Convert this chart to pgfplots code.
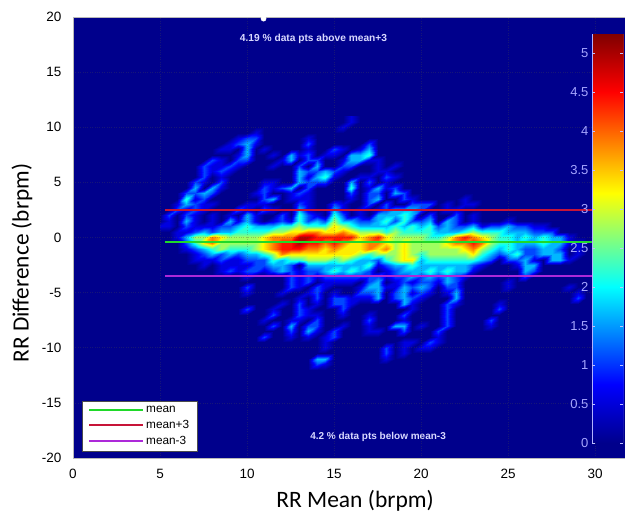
\documentclass[border=0pt]{standalone}
\usepackage{fontspec}
\setmainfont{Liberation Sans}
\newfontfamily\calibri{Carlito}
\usepackage{pgfplots}
\pgfplotsset{compat=1.18}
\makeatletter
\def\heatdata{}
\newcount\hc
% one row of the density grid: row number, then column/level pairs (all others are 0)
\newcommand\R[2]{%
  \pgfmathsetmacro\hy{11-0.5*#1}%
  \global\hc=0
  \loop\ifnum\hc<51 \expandafter\gdef\csname hv\the\hc\endcsname{0}\global\advance\hc 1 \repeat
  \foreach\i/\v in {#2}{\expandafter\xdef\csname hv\i\endcsname{\v}}%
  \global\hc=0
  \loop\ifnum\hc<51
    \pgfmathsetmacro\hx{5+0.5*\the\hc}%
    \xdef\heatdata{\heatdata(\hx,\hy) [\csname hv\the\hc\endcsname] }%
    \global\advance\hc 1
  \repeat}
\makeatother
\R{0}{22/1}
\R{1}{22/1}
\R{2}{21/1}
\R{3}{11/1}
\R{4}{9/1,10/2,11/2,17/1}
\R{5}{8/1,9/2,10/3,11/1,17/2,24/2}
\R{6}{7/1,8/1,10/3,12/1,17/1,20/2,21/1,23/1,24/3}
\R{7}{9/1,10/3,13/1,15/3,16/1,17/2,19/1,20/1,22/3,23/3,24/4}
\R{8}{6/2,7/1,9/2,10/2,14/1,15/3,17/2,18/2,21/1,22/3,23/3,24/1,25/1}
\R{9}{5/2,6/1,7/1,8/2,9/1,13/1,16/2,18/3,21/2,22/2,25/1,27/1}
\R{10}{5/2,6/1,7/2,8/1,16/3,17/2,18/2,19/3,20/2,21/1,25/1,26/1}
\R{11}{5/2,7/1,16/3,17/1,18/3,19/4,20/1,23/1,24/1,26/2,27/1}
\R{12}{4/2,5/1,7/2,12/1,13/1,16/3,17/2,18/2,19/2,22/3,24/2,26/1}
\R{13}{4/3,6/3,7/1,12/2,13/1,14/2,15/3,17/2,22/4,24/1,25/3,26/1,27/2}
\R{14}{3/2,4/2,5/3,6/2,11/1,12/2,15/1,16/2,17/1,22/2,24/2,25/2,27/3,28/2}
\R{15}{3/4,4/1,5/2,12/2,13/3,15/1,16/1,17/1,22/1,24/2,25/3,28/2,29/1,35/1}
\R{16}{2/1,3/3,4/2,5/1,6/1,10/1,11/1,12/1,16/2,17/1,20/2,21/1,24/2,26/2,29/2,30/2,31/2,33/1,35/1,36/1}
\R{17}{2/2,3/1,4/2,5/1,9/2,10/1,12/2,13/1,16/3,17/1,20/3,21/1,23/1,25/1,26/2,27/3,28/3,29/3,30/2,33/1,34/1}
\R{18}{1/2,3/2,4/1,6/1,8/1,10/3,11/1,14/2,16/4,17/2,18/1,20/4,21/2,23/1,25/3,26/3,27/3,28/4,29/3,31/2,34/2,36/1}
\R{19}{1/1,3/3,4/1,6/1,8/3,9/1,10/3,11/1,13/1,14/2,15/1,16/4,17/2,18/3,19/2,20/5,21/3,22/3,23/2,24/2,25/3,26/4,27/2,28/4,29/2,30/2,31/3,33/3,34/2,36/1,40/1}
\R{20}{0/1,1/1,3/2,4/1,5/1,6/1,7/2,8/2,9/3,10/4,11/3,12/3,13/3,14/4,15/4,16/5,17/4,18/4,19/4,20/6,21/5,22/4,23/3,24/3,25/3,26/3,27/4,28/3,29/4,30/3,31/4,32/2,33/3,34/2,35/2,36/3,37/1,38/2,39/2,40/3,41/2,42/2,43/1,44/1}
\R{21}{2/1,3/1,4/2,5/3,6/2,7/3,8/3,9/4,10/4,11/4,12/4,13/5,14/5,15/6,16/6,17/7,18/7,19/6,20/6,21/7,22/6,23/5,24/5,25/5,26/4,27/5,28/4,29/4,30/4,31/4,32/3,33/3,34/3,35/4,36/5,37/4,38/4,39/4,40/3,41/3,42/3,43/2,44/2,45/2}
\R{22}{2/1,3/3,4/5,5/5,6/7,7/6,8/5,9/5,10/5,11/5,12/6,13/7,14/7,15/7,16/9,17/9,18/8,19/8,20/8,21/8,22/8,23/6,24/7,25/8,26/6,27/5,28/5,29/5,30/5,31/4,32/4,33/5,34/7,35/8,36/7,37/6,38/5,39/4,40/4,41/3,42/4,43/3,44/4,45/3,46/3,47/1}
\R{23}{3/2,4/4,5/6,6/7,7/5,8/5,9/5,10/5,11/5,12/6,13/7,14/8,15/8,16/9,17/8,18/8,19/7,20/8,21/7,22/6,23/6,24/7,25/7,26/6,27/5,28/6,29/5,30/5,31/5,32/5,33/6,34/7,35/7,36/8,37/7,38/5,39/4,40/4,41/3,42/3,43/3,44/4,45/3,46/3,47/1,48/1}
\R{24}{3/1,4/2,5/3,6/4,7/5,8/4,9/4,10/4,11/5,12/6,13/7,14/8,15/8,16/8,17/7,18/7,19/6,20/7,21/6,22/6,23/6,24/7,25/6,26/7,27/5,28/6,29/5,30/5,31/5,32/5,33/5,34/5,35/6,36/7,37/5,38/4,39/3,40/4,41/3,42/2,43/2,44/3,45/3,46/2,48/1}
\R{25}{4/1,5/2,6/3,7/2,8/3,9/2,10/3,11/3,12/4,13/5,14/7,15/6,16/6,17/6,18/6,19/6,20/6,21/6,22/6,23/5,24/4,25/5,26/5,27/5,28/6,29/5,30/4,31/5,32/5,33/5,34/5,35/5,36/6,37/4,38/3,39/2,40/3,41/4,42/2,43/2,44/3,45/3,46/3,48/1}
\R{26}{4/1,5/1,6/1,7/2,8/1,9/1,10/2,11/2,12/2,13/4,14/3,15/4,16/4,17/5,18/5,19/5,20/4,21/5,22/4,23/3,24/3,25/2,26/4,27/5,28/6,29/6,30/3,31/4,32/4,33/4,34/4,35/4,36/4,37/3,38/2,40/2,41/2,42/3,43/1,45/3,46/3,47/1}
\R{27}{5/1,7/1,8/1,9/1,10/1,11/2,12/2,13/3,14/3,15/2,17/3,18/3,19/3,20/3,21/3,22/3,23/3,24/4,25/1,26/2,27/3,28/3,29/4,30/3,31/3,32/3,33/3,34/3,35/3,36/2,37/1,41/1,42/3,43/3}
\R{28}{7/1,8/2,9/1,10/2,11/2,12/1,13/2,14/3,15/2,16/1,17/2,18/2,19/3,20/4,21/3,22/4,23/3,24/2,26/1,27/2,28/3,29/3,30/3,31/4,32/3,33/4,34/3,35/3,36/1,42/3,43/2}
\R{29}{10/1,15/2,16/1,17/2,18/1,19/2,20/2,21/2,22/2,23/2,24/2,25/2,26/1,27/2,28/2,29/3,30/2,31/3,32/2,33/3,34/2,35/1,42/2}
\R{30}{15/2,16/1,17/2,19/1,20/1,21/1,22/1,24/2,25/3,27/1,28/2,29/1,30/2,31/2,32/1,33/3,34/2,40/1}
\R{31}{10/2,15/2,16/1,18/2,19/1,23/1,24/3,25/3,26/1,27/1,28/3,29/2,30/3,31/2,33/2,34/2,40/1,47/1}
\R{32}{10/1,14/1,17/1,18/2,20/1,23/2,24/2,25/3,27/2,28/3,29/1,30/2,31/1,33/1,34/3,48/1}
\R{33}{16/1,18/2,20/2,21/2,22/1,23/1,24/1,25/3,27/2,28/3,29/2,30/1,34/3,48/2}
\R{34}{14/1,16/2,18/1,20/2,21/2,22/1,28/3,29/1,33/2,34/1,39/1}
\R{35}{10/2,13/1,16/2,17/1,21/2,29/1,33/2,39/2}
\R{36}{13/2,16/2,17/1,18/1,21/1,24/1,28/2,33/2}
\R{37}{12/1,15/1,16/1,18/2,24/2,28/1,33/2,38/2}
\R{38}{13/2,15/3,17/2,18/2,21/1,24/1,27/3,28/3,30/1,33/2,38/1}
\R{39}{15/2,17/3,18/1,20/2,24/1,25/1,28/2,32/2}
\R{40}{12/2,15/1,17/1,19/1,20/2,32/1}
\R{41}{19/1,28/1,29/1,31/2,32/1}
\R{42}{19/1,26/2,28/1,30/1,31/1}
\R{43}{26/2,28/1}
\R{44}{18/3,19/3,26/1}
\R{45}{18/2,19/1}
\R{46}{0/0}
\definecolor{bgblue}{rgb}{0,0,0.55}
\definecolor{mred}{rgb}{0.78,0.08,0.22}
\definecolor{mgreen}{rgb}{0.12,0.85,0.16}
\definecolor{mpurp}{rgb}{0.68,0.16,0.85}
\pgfplotsset{
  colormap={ln}{rgb(0pt)=(0,0,0.55); rgb(75pt)=(0,0,1); rgb(200pt)=(0,1,1); rgb(320pt)=(1,1,0); rgb(450pt)=(1,0,0); rgb(524pt)=(0.5,0,0)},
  heat/.style={surf,shader=interp,mesh/cols=51,point meta=explicit,forget plot},
  legend image code/.code={\draw[#1,line width=2pt] (0pt,0pt) -- (51pt,0pt);\path (0pt,0pt) -- (54pt,0pt);}
}
\begin{document}
\begin{tikzpicture}[x=1pt,y=1pt]
\path[use as bounding box] (0,0) rectangle (625,513);
\begin{axis}[
  at={(73pt,55pt)},anchor=south west,scale only axis,width=552pt,height=441pt,
  xmin=0,xmax=31.72,ymin=-20,ymax=20,
  xtick={0,5,...,30},ytick={-20,-15,...,20},
  /pgf/number format/assume math mode=true,
  tick label style={font=\fontsize{13.5}{15}\selectfont,black},
  xticklabel style={yshift=-8pt},
  yticklabel style={xshift=-8pt},
  tick align=inside,major tick length=0pt,
  axis on top,
  axis background/.style={fill=bgblue},
  axis line style={gray!55,line width=0.8pt},
  grid=major,grid style={dotted,black!70,line width=0.5pt,opacity=0.3},
  point meta min=0,point meta max=9.53,
  xlabel={\calibri RR Mean (brpm)},
  ylabel={\calibri RR Difference (brpm)},
  xlabel style={at={(axis description cs:0.511,-0.0975)},anchor=center,font=\fontsize{23.5}{26}\selectfont},
  ylabel style={at={(axis description cs:-0.0924,0.442)},anchor=center,font=\fontsize{23.3}{26}\selectfont},
  legend style={at={(axis description cs:0.0163,0.0159)},anchor=south west,draw=black!70,fill=white,
    font=\fontsize{11.8}{13}\selectfont,row sep=2.5pt,inner xsep=6pt,inner ysep=2.5pt},
  legend cell align=left,
]
\edef\temp{\noexpand\addplot[heat] coordinates {\heatdata};}\temp
\addplot[mgreen,line width=2pt] coordinates {(5.3,-0.41) (30.2,-0.41)};
\addlegendentry{mean}
\addplot[mred,line width=2pt] coordinates {(5.3,2.5) (30.2,2.5)};
\addlegendentry{mean+3}
\addplot[mpurp,line width=2pt] coordinates {(5.3,-3.45) (30.2,-3.45)};
\addlegendentry{mean-3}
\addplot[only marks,mark=*,mark size=2.6pt,white,forget plot] coordinates {(10.95,19.85)};
\node[font=\bfseries\fontsize{10.2}{12}\selectfont,text=white!85!blue] at (axis cs:13.82,18.05) {4.19 \% data pts above mean+3};
\node[font=\bfseries\fontsize{10}{12}\selectfont,text=white!85!blue] at (axis cs:17.53,-18.05) {4.2 \% data pts below mean-3};
\end{axis}
\begin{axis}[
  at={(592pt,70pt)},anchor=south west,scale only axis,width=31pt,height=408.7pt,
  xmin=0,xmax=1,ymin=0,ymax=5.24,
  xtick=\empty,ytick={0,0.5,...,5},
  yticklabels={0,0.5,1,1.5,2,2.5,3,3.5,4,4.5,5},
  /pgf/number format/assume math mode=true,
  tick label style={font=\fontsize{13}{15}\selectfont,text=white!65!blue},
  tick align=inside,major tick length=3pt,
  ytick pos=both,yticklabel pos=left,
  tick style={white!75!blue,line width=0.6pt},
  axis on top,
  axis line style={draw=none},
  point meta min=0,point meta max=5.24,
]
\addplot[surf,shader=interp,mesh/cols=2,point meta=explicit] coordinates {(0,0) [0] (1,0) [0] (0,5.24) [5.24] (1,5.24) [5.24]};
\draw[white!70!blue,line width=0.8pt] (rel axis cs:0,1) -- (rel axis cs:0,0) -- (rel axis cs:1,0);
\draw[gray!60,line width=0.8pt] (rel axis cs:1,0) -- (rel axis cs:1,1);
\node[font=\fontsize{9}{11}\selectfont,text=white!80!blue,anchor=center,yshift=6pt] at (rel axis cs:-0.39,1) {ln scale};
\end{axis}
\end{tikzpicture}
\end{document}
